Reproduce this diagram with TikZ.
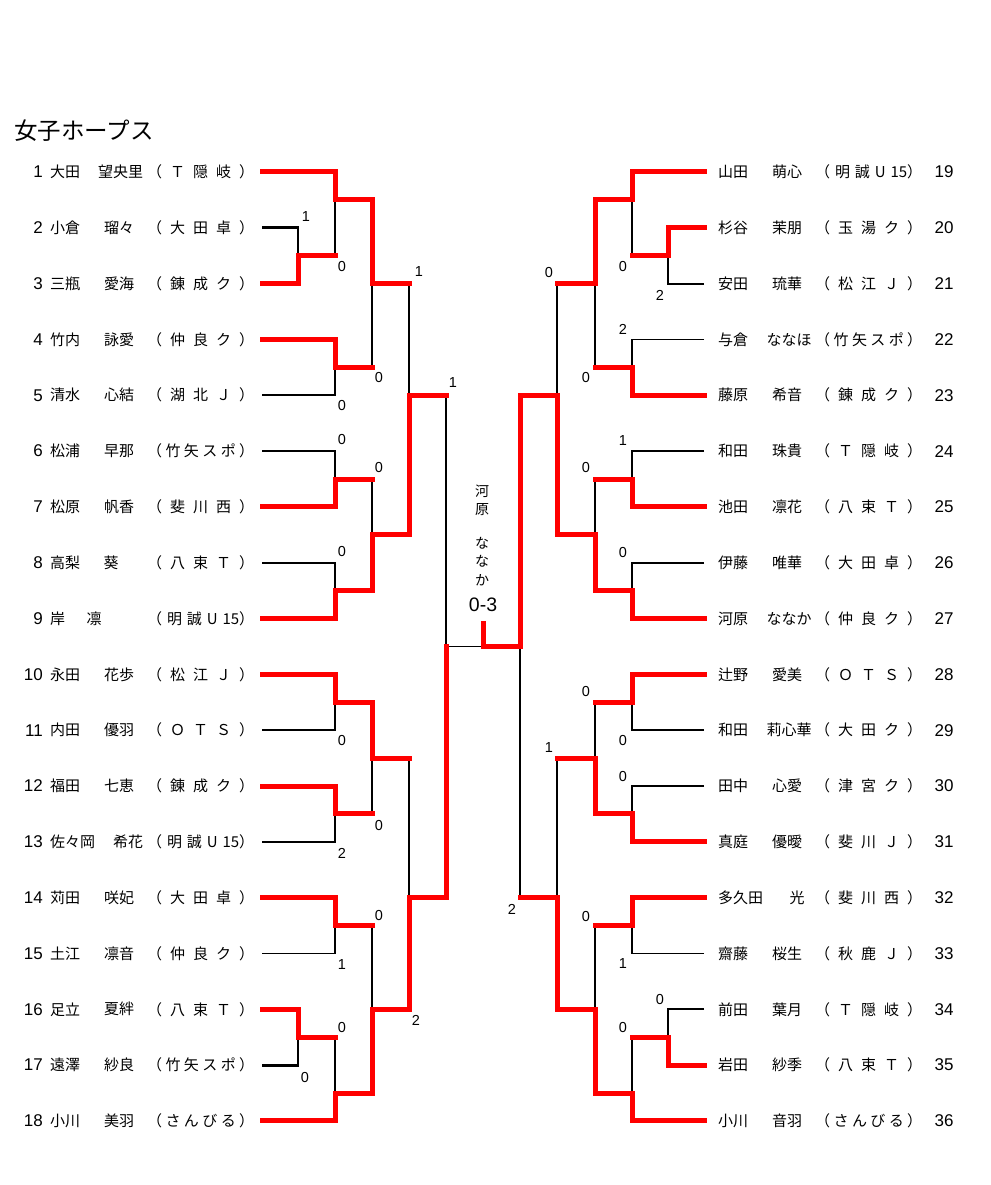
\documentclass[tikz,border=0pt]{standalone}
\usepackage{fontspec}
\setmainfont{Noto Sans CJK JP}
\newfontfamily\numfont{Liberation Sans}
\usetikzlibrary{positioning,calc}
\tikzset{
won/.style       = {draw=red, line width=5pt, line cap=rect},
lost/.style      = {draw=black, line width=1.8pt},
lostthick/.style = {draw=black, line width=2.8pt},
pnum/.style      = {inner sep=0pt, font=\numfont\fontsize{17}{17}\selectfont},
pname/.style     = {inner sep=0pt, font=\fontsize{15}{15}\selectfont},
pteam/.style     = {inner sep=0pt, anchor=west, font=\fontsize{15}{15}\selectfont},
score/.style     = {inner sep=0pt, font=\numfont\fontsize{14.5}{14.5}\selectfont},
vname/.style     = {inner sep=0pt, align=center, font=\fontsize{14}{18.5}\selectfont},
result/.style    = {inner sep=0pt, font=\numfont\fontsize{19.5}{19.5}\selectfont}
}

\begin{document}
\begin{tikzpicture}[x=1pt, y=-1pt]
  \useasboundingbox (0,0) rectangle (990,1185);
  \node [anchor=west, inner sep=0pt, font=\fontsize{23.5}{23.5}\selectfont] (title) at (14,131) {女子ホープス};

  % players, left half
  \foreach \i/\sn/\gn/\gx/\tm in {
      1/大田/望央里/120.5/（ Ｔ 隠 岐 ）, 2/小倉/瑠々/119/（ 大 田 卓 ）,
      3/三瓶/愛海/119/（ 錬 成 ク ）, 4/竹内/詠愛/119/（ 仲 良 ク ）,
      5/清水/心結/119/（ 湖 北 Ｊ ）, 6/松浦/早那/119/（ 竹 矢 ス ポ ）,
      7/松原/帆香/119/（ 斐 川 西 ）, 8/高梨/葵/111/（ 八 束 Ｔ ）,
      9/岸/凛/94/（ 明 誠 U 15）, 10/永田/花歩/119/（ 松 江 Ｊ ）,
      11/内田/優羽/119/（ Ｏ Ｔ Ｓ ）, 12/福田/七恵/119/（ 錬 成 ク ）,
      13/佐々岡/希花/128/（ 明 誠 U 15）, 14/苅田/咲妃/119/（ 大 田 卓 ）,
      15/土江/凛音/119/（ 仲 良 ク ）, 16/足立/夏絆/119/（ 八 束 Ｔ ）,
      17/遠澤/紗良/119/（ 竹 矢 ス ポ ）, 18/小川/美羽/119/（ さ ん び る ）}{
    \pgfmathsetmacro\y{172+(\i-1)*55.82}
    \node [pnum, anchor=east] (no\i) at (43,\y) {\i};
    \node [pname, anchor=west] (sn\i) at (50,\y) {\sn};
    \node [pname] (gn\i) at (\gx,\y) {\gn};
    \node [pteam] (tm\i) at (147,\y) {\makebox[107pt][s]{\tm}};
    \coordinate (p\i) at (262,\y);
  }

  % players, right half
  \foreach \i/\sn/\gn/\gx/\tm in {
      19/山田/萌心/787/（ 明 誠 U 15）, 20/杉谷/茉朋/787/（ 玉 湯 ク ）,
      21/安田/琉華/787/（ 松 江 Ｊ ）, 22/与倉/ななほ/789/（ 竹 矢 ス ポ ）,
      23/藤原/希音/787/（ 錬 成 ク ）, 24/和田/珠貴/787/（ Ｔ 隠 岐 ）,
      25/池田/凛花/787/（ 八 束 Ｔ ）, 26/伊藤/唯華/787/（ 大 田 卓 ）,
      27/河原/ななか/789/（ 仲 良 ク ）, 28/辻野/愛美/787/（ Ｏ Ｔ Ｓ ）,
      29/和田/莉心華/789/（ 大 田 ク ）, 30/田中/心愛/787/（ 津 宮 ク ）,
      31/真庭/優曖/787/（ 斐 川 Ｊ ）, 32/多久田/光/797/（ 斐 川 西 ）,
      33/齋藤/桜生/787/（ 秋 鹿 Ｊ ）, 34/前田/葉月/787/（ Ｔ 隠 岐 ）,
      35/岩田/紗季/787/（ 八 束 Ｔ ）, 36/小川/音羽/787/（ さ ん び る ）}{
    \pgfmathsetmacro\y{172+(\i-19)*55.82}
    \node [pnum] (no\i) at (944,\y) {\i};
    \node [pname, anchor=west] (sn\i) at (718,\y) {\sn};
    \node [pname] (gn\i) at (\gx,\y) {\gn};
    \node [pteam] (tm\i) at (815,\y) {\makebox[107pt][s]{\tm}};
    \coordinate (p\i) at (704,\y);
  }

  % match points
  \coordinate (la23)   at (298,255.7);  \coordinate (la1)    at (335,199.9);
  \coordinate (la45)   at (335,367.4);  \coordinate (la67)   at (335,479.0);
  \coordinate (la89)   at (335,590.6);  \coordinate (la1011) at (335,702.3);
  \coordinate (la1213) at (335,813.9);  \coordinate (la1415) at (335,925.6);
  \coordinate (la1617) at (298,1037.2); \coordinate (la18)   at (335,1093.0);
  \coordinate (lb1)    at (372,283.6);  \coordinate (lb2)    at (372,534.8);
  \coordinate (lb3)    at (372,758.1);  \coordinate (lb4)    at (372,1009.3);
  \coordinate (lc1)    at (409,395.3);  \coordinate (lc2)    at (409,897.7);
  \coordinate (ld)     at (446,646.5);
  \coordinate (ra2021) at (668,255.7);  \coordinate (ra19)   at (632,199.9);
  \coordinate (ra2223) at (632,367.4);  \coordinate (ra2425) at (632,479.0);
  \coordinate (ra2627) at (632,590.6);  \coordinate (ra2829) at (632,702.3);
  \coordinate (ra3031) at (632,813.9);  \coordinate (ra3233) at (632,925.6);
  \coordinate (ra3435) at (668,1037.2); \coordinate (ra36)   at (632,1093.0);
  \coordinate (rb1)    at (595,283.6);  \coordinate (rb2)    at (595,534.8);
  \coordinate (rb3)    at (595,758.1);  \coordinate (rb4)    at (595,1009.3);
  \coordinate (rc1)    at (557,395.3);  \coordinate (rc2)    at (557,897.7);
  \coordinate (rd)     at (520,646.5);
  \coordinate (fin)    at (483,646.5);  \coordinate (champ)  at (483,623);

  % losing lines
  \foreach \l/\m in {p5/la45, p6/la67, p8/la89, p11/la1011, p13/la1213, p15/la1415,
      p21/ra2021, p22/ra2223, p24/ra2425, p26/ra2627, p29/ra2829, p33/ra3233, p34/ra3435}
    \draw [lost] (\l) -| (\m);
  \foreach \l/\m in {p2/la23, p17/la1617, p30/ra3031}
    \draw [lostthick] (\l) -| (\m);
  \foreach \l/\m in {la23/la1, la45/lb1, lb1/lc1, la1617/la18, lb3/lc2, lc1/ld,
      ra2021/ra19, ra2223/rb1, ra2425/rb2, rb1/rc1, rb3/rc2, rc2/rd}
    \draw [lost] (\l -| \m) -- (\m);
  \foreach \l/\m in {la67/lb2, la1213/lb3, la1415/lb4, ra2829/rb3, ra3435/ra36, ra3233/rb4}
    \draw [lostthick] (\l -| \m) -- (\m);
  \draw [lost] (ld) -- (fin);

  % winning lines
  \foreach \l/\m in {la23/la1, la45/lb1, lb1/lc1, la1617/la18, lb3/lc2, lc1/ld,
      la67/lb2, la1213/lb3, la1415/lb4,
      ra2021/ra19, ra2223/rb1, ra2425/rb2, rb1/rc1, rb3/rc2, rc2/rd,
      ra2829/rb3, ra3435/ra36, ra3233/rb4}
    \draw [won] (\l) -- (\l -| \m);
  \foreach \w/\m in {p3/la23, p1/la1, p4/la45, p7/la67, p9/la89, p10/la1011, p12/la1213,
      p14/la1415, p16/la1617, p18/la18, la1/lb1, la89/lb2, la1011/lb3, la18/lb4,
      lb2/lc1, lb4/lc2, lc2/ld,
      p20/ra2021, p19/ra19, p23/ra2223, p25/ra2425, p27/ra2627, p28/ra2829, p31/ra3031,
      p32/ra3233, p35/ra3435, p36/ra36, ra19/rb1, ra2627/rb2, ra3031/rb3, ra36/rb4,
      rb2/rc1, rb4/rc2, rc1/rd}
    \draw [won] (\w) -| (\m);
  \draw [won] (rd) -- (fin) -- (champ);

  % scores
  \foreach \x/\y/\t [count=\k] in {306/217/1, 342/267/0, 419/272/1, 379/378/0, 342/406/0,
      453/383/1, 342/440/0, 379/468/0, 342/552/0, 342/741/0, 379/825/0, 342/853/2,
      379/915/0, 342/965/1, 342/1027/0, 416/1020/2, 305/1077/0,
      549/273/0, 623/267/0, 660/295/2, 623/329/2, 586/378/0, 623/441/1, 586/468/0,
      623/553/0, 586/692/0, 623/741/0, 549/748/1, 623/776/0, 512/909/2, 586/916/0,
      623/964/1, 660/999/0, 623/1027/0}
    \node [score] (sc\k) at (\x,\y) {\t};

  \node [vname] (winner) at (482,535) {河\\原\\[15pt]な\\な\\か};
  \node [result] (final) at (483,605) {0-3};
\end{tikzpicture}
\end{document}
